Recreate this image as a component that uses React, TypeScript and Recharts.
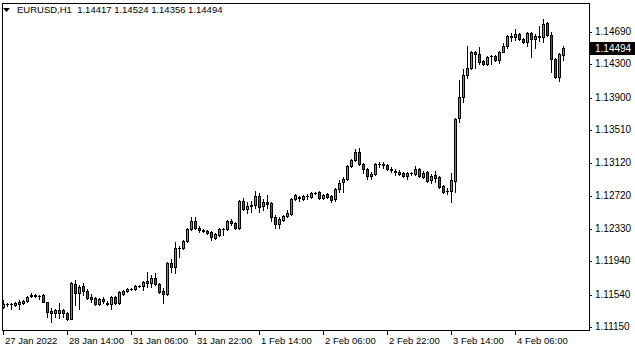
import React from 'react';
import { ComposedChart, Bar, XAxis, YAxis } from 'recharts';

const symbolTitle = 'EURUSD,H1';

const openPrices = [
  1.11390, 1.11426, 1.11426, 1.11414, 1.11426, 1.11438, 1.11462, 1.11522, 1.11534, 1.11522,
  1.11534, 1.11450, 1.11342, 1.11318, 1.11318, 1.11354, 1.11318, 1.11246, 1.11666, 1.11558,
  1.11642, 1.11582, 1.11510, 1.11498, 1.11426, 1.11486, 1.11438, 1.11426, 1.11510, 1.11438,
  1.11546, 1.11582, 1.11606, 1.11606, 1.11642, 1.11642, 1.11702, 1.11678, 1.11738, 1.11666,
  1.11582, 1.11546, 1.11918, 1.11870, 1.12098, 1.12098, 1.12182, 1.12326, 1.12422, 1.12338,
  1.12314, 1.12302, 1.12290, 1.12218, 1.12254, 1.12326, 1.12326, 1.12422, 1.12398, 1.12338,
  1.12662, 1.12566, 1.12602, 1.12614, 1.12722, 1.12602, 1.12650, 1.12638, 1.12470, 1.12386,
  1.12434, 1.12482, 1.12506, 1.12686, 1.12710, 1.12686, 1.12722, 1.12710, 1.12758, 1.12770,
  1.12698, 1.12746, 1.12722, 1.12686, 1.12806, 1.12890, 1.12926, 1.13082, 1.13154, 1.13250,
  1.13106, 1.13046, 1.12962, 1.12986, 1.13106, 1.13106, 1.13094, 1.13046, 1.13022, 1.13010,
  1.12998, 1.12962, 1.12998, 1.12986, 1.13046, 1.12950, 1.13010, 1.12914, 1.12974, 1.12950,
  1.12842, 1.12782, 1.12782, 1.12902, 1.13658, 1.13910, 1.14174, 1.14258, 1.14450, 1.14426,
  1.14342, 1.14306, 1.14402, 1.14402, 1.14354, 1.14450, 1.14522, 1.14630, 1.14630, 1.14666,
  1.14606, 1.14570, 1.14678, 1.14606, 1.14630, 1.14630, 1.14798, 1.14654, 1.14366, 1.14150,
  1.14417,
];

const highPrices = [
  1.11474, 1.11438, 1.11438, 1.11450, 1.11474, 1.11474, 1.11522, 1.11558, 1.11546, 1.11534,
  1.11546, 1.11450, 1.11378, 1.11366, 1.11438, 1.11366, 1.11330, 1.11690, 1.11714, 1.11654,
  1.11678, 1.11606, 1.11546, 1.11510, 1.11498, 1.11510, 1.11462, 1.11522, 1.11522, 1.11582,
  1.11594, 1.11618, 1.11618, 1.11654, 1.11654, 1.11702, 1.11810, 1.11774, 1.11798, 1.11678,
  1.11618, 1.11930, 1.11966, 1.12170, 1.12122, 1.12194, 1.12338, 1.12470, 1.12470, 1.12362,
  1.12326, 1.12314, 1.12302, 1.12278, 1.12338, 1.12338, 1.12434, 1.12446, 1.12410, 1.12674,
  1.12698, 1.12650, 1.12662, 1.12782, 1.12758, 1.12686, 1.12734, 1.12650, 1.12494, 1.12470,
  1.12494, 1.12554, 1.12698, 1.12746, 1.12722, 1.12734, 1.12746, 1.12770, 1.12770, 1.12782,
  1.12746, 1.12758, 1.12734, 1.12818, 1.12914, 1.12950, 1.13094, 1.13166, 1.13286, 1.13298,
  1.13118, 1.13058, 1.13010, 1.13118, 1.13130, 1.13130, 1.13106, 1.13070, 1.13046, 1.13034,
  1.13010, 1.13010, 1.13010, 1.13082, 1.13058, 1.13022, 1.13022, 1.12986, 1.13022, 1.12962,
  1.12854, 1.12818, 1.12998, 1.13658, 1.14114, 1.14246, 1.14522, 1.14462, 1.14462, 1.14510,
  1.14354, 1.14402, 1.14414, 1.14414, 1.14462, 1.14558, 1.14654, 1.14678, 1.14726, 1.14678,
  1.14618, 1.14690, 1.14690, 1.14666, 1.14762, 1.14846, 1.14810, 1.14690, 1.14378, 1.14438,
  1.14524,
];

const lowPrices = [
  1.11378, 1.11402, 1.11366, 1.11402, 1.11366, 1.11426, 1.11450, 1.11510, 1.11510, 1.11486,
  1.11450, 1.11270, 1.11210, 1.11270, 1.11258, 1.11270, 1.11234, 1.11246, 1.11414, 1.11366,
  1.11534, 1.11486, 1.11450, 1.11414, 1.11414, 1.11438, 1.11414, 1.11366, 1.11426, 1.11426,
  1.11534, 1.11570, 1.11594, 1.11594, 1.11630, 1.11594, 1.11630, 1.11630, 1.11654, 1.11558,
  1.11438, 1.11534, 1.11810, 1.11798, 1.11990, 1.12086, 1.12170, 1.12314, 1.12326, 1.12290,
  1.12290, 1.12266, 1.12194, 1.12206, 1.12242, 1.12254, 1.12314, 1.12374, 1.12326, 1.12326,
  1.12554, 1.12518, 1.12530, 1.12578, 1.12530, 1.12554, 1.12578, 1.12422, 1.12338, 1.12338,
  1.12422, 1.12470, 1.12494, 1.12674, 1.12662, 1.12674, 1.12686, 1.12698, 1.12746, 1.12686,
  1.12686, 1.12698, 1.12650, 1.12662, 1.12770, 1.12770, 1.12914, 1.13070, 1.13142, 1.13094,
  1.12998, 1.12926, 1.12926, 1.12974, 1.13070, 1.13058, 1.13034, 1.13010, 1.12974, 1.12974,
  1.12950, 1.12926, 1.12974, 1.12974, 1.12950, 1.12938, 1.12890, 1.12878, 1.12890, 1.12818,
  1.12758, 1.12746, 1.12650, 1.12770, 1.13610, 1.13850, 1.14138, 1.14246, 1.14258, 1.14306,
  1.14294, 1.14294, 1.14306, 1.14342, 1.14318, 1.14450, 1.14498, 1.14582, 1.14594, 1.14594,
  1.14558, 1.14522, 1.14390, 1.14498, 1.14582, 1.14570, 1.14642, 1.14210, 1.14138, 1.14102,
  1.14356,
];

const closePrices = [
  1.11426, 1.11426, 1.11426, 1.11438, 1.11450, 1.11462, 1.11510, 1.11534, 1.11522, 1.11522,
  1.11450, 1.11330, 1.11318, 1.11354, 1.11354, 1.11318, 1.11246, 1.11678, 1.11558, 1.11630,
  1.11582, 1.11498, 1.11486, 1.11426, 1.11486, 1.11462, 1.11426, 1.11510, 1.11438, 1.11570,
  1.11582, 1.11606, 1.11606, 1.11642, 1.11642, 1.11690, 1.11678, 1.11738, 1.11666, 1.11570,
  1.11546, 1.11918, 1.11870, 1.12098, 1.12098, 1.12182, 1.12326, 1.12422, 1.12338, 1.12314,
  1.12302, 1.12278, 1.12230, 1.12266, 1.12326, 1.12326, 1.12422, 1.12398, 1.12338, 1.12662,
  1.12566, 1.12602, 1.12614, 1.12722, 1.12590, 1.12650, 1.12626, 1.12470, 1.12386, 1.12446,
  1.12482, 1.12518, 1.12686, 1.12734, 1.12698, 1.12722, 1.12722, 1.12758, 1.12758, 1.12698,
  1.12734, 1.12710, 1.12674, 1.12806, 1.12878, 1.12926, 1.13082, 1.13154, 1.13250, 1.13106,
  1.13046, 1.12962, 1.12986, 1.13106, 1.13106, 1.13094, 1.13046, 1.13034, 1.13010, 1.12986,
  1.12962, 1.12998, 1.12998, 1.13046, 1.12962, 1.12998, 1.12902, 1.12962, 1.12938, 1.12830,
  1.12770, 1.12782, 1.12914, 1.13646, 1.13910, 1.14174, 1.14258, 1.14450, 1.14426, 1.14330,
  1.14306, 1.14390, 1.14402, 1.14354, 1.14450, 1.14522, 1.14642, 1.14642, 1.14666, 1.14606,
  1.14570, 1.14678, 1.14606, 1.14642, 1.14642, 1.14786, 1.14654, 1.14366, 1.14150, 1.14426,
  1.14494,
];

// empty bar slots kept at the right edge (chart shift)
const emptySlots = 6;

const xTickIndex = [0, 16, 32, 48, 64, 80, 96, 112, 128];
const xTickLabels = [
  '27 Jan 2022', '28 Jan 14:00', '31 Jan 06:00', '31 Jan 22:00', '1 Feb 14:00',
  '2 Feb 06:00', '2 Feb 22:00', '3 Feb 14:00', '4 Feb 06:00',
];

const yTicks = [1.1469, 1.14494, 1.143, 1.139, 1.1351, 1.1312, 1.1272, 1.1233, 1.1194, 1.1154, 1.1115];
const yDomain = [1.11114, 1.15038];

const GREEN = '#3cb83c';
const RED = '#d41c1c';
const FONT = '"Liberation Sans", Arial, sans-serif';

const lastClose = closePrices[closePrices.length - 1];

const data = Array.from({ length: openPrices.length + emptySlots }, (_, i) =>
  i < openPrices.length
    ? { i, o: openPrices[i], h: highPrices[i], l: lowPrices[i], c: closePrices[i], range: [lowPrices[i], highPrices[i]] }
    : { i, o: null, h: null, l: null, c: null, range: null }
);

function Candle(props: any) {
  const { x, y, width, height, payload } = props;
  if (!payload || payload.o == null || !isFinite(height) || !isFinite(y)) return null;
  const { o, h, l, c } = payload;
  const k = height / (h - l);
  const cx = Math.round(x + width / 2);
  const yOf = (v: number) => Math.round(y + (h - v) * k);
  const yH = yOf(h);
  const yL = yOf(l);
  const yO = yOf(o);
  const yC = yOf(c);
  const top = Math.min(yO, yC);
  const bot = Math.max(yO, yC);
  const fill = c > o ? GREEN : RED;
  return (
    <g>
      <rect x={cx} y={yH} width={1} height={yL - yH + 1} fill="#000" />
      <rect x={cx - 1} y={top} width={3} height={bot - top + 1} fill="#000" />
      {bot - top >= 2 && <rect x={cx} y={top + 1} width={1} height={bot - top - 1} fill={fill} />}
    </g>
  );
}

function XTick(props: any) {
  const { x, y, payload } = props;
  const idx = xTickIndex.indexOf(payload.value);
  if (idx < 0) return null;
  const px = Math.round(x);
  return (
    <g>
      <rect x={px} y={y + 1} width={1} height={4} fill="#000" />
      <text x={px + 2} y={y + 14} fill="#000" fontSize={9.5} fontFamily={FONT} textAnchor="start">
        {xTickLabels[idx]}
      </text>
    </g>
  );
}

function YTick(props: any) {
  const { x, y, payload } = props;
  const py = Math.round(y);
  const v = payload.value;
  const label = Number(v).toFixed(5);
  if (Math.abs(v - lastClose) < 1e-7) {
    return (
      <g>
        <rect x={x + 1} y={py - 6} width={46} height={13} fill="#000" />
        <text x={x + 6} y={py + 4} fill="#fff" fontSize={10} fontFamily={FONT} textAnchor="start">
          {label}
        </text>
      </g>
    );
  }
  return (
    <g>
      <rect x={x} y={py} width={3} height={1} fill="#000" />
      <text x={x + 6} y={py + 3} fill="#000" fontSize={10} fontFamily={FONT} textAnchor="start">
        {label}
      </text>
    </g>
  );
}

export default function App() {
  return (
    <div style={{ position: 'relative', width: 635, height: 352, background: '#fff', overflow: 'hidden' }}>
      <style>{`body{margin:0;background:#fff;}`}</style>
      <ComposedChart
        width={635}
        height={352}
        data={data}
        margin={{ top: 3, right: 0, bottom: 0, left: 1 }}
        barCategoryGap={0}
        barGap={0}
      >
        <XAxis
          dataKey="i"
          type="category"
          height={22}
          ticks={xTickIndex}
          interval={0}
          tick={<XTick />}
          tickLine={false}
          axisLine={false}
          tickSize={0}
          tickMargin={0}
        />
        <YAxis
          orientation="right"
          type="number"
          width={46}
          domain={yDomain}
          allowDataOverflow
          ticks={yTicks}
          interval={0}
          tick={<YTick />}
          tickLine={false}
          axisLine={false}
          tickSize={0}
          tickMargin={0}
        />
        <Bar dataKey="range" shape={<Candle />} isAnimationActive={false} />
      </ComposedChart>
      <div
        style={{
          position: 'absolute', left: 2, top: 3, width: 588, height: 328,
          border: '1px solid #000', boxSizing: 'border-box', pointerEvents: 'none',
        }}
      />
      <svg style={{ position: 'absolute', left: 0, top: 0 }} width={16} height={16}>
        <polygon points="3,8 10,8 6.5,12" fill="#000" />
      </svg>
      <div
        style={{
          position: 'absolute', left: 17, top: 4, fontFamily: FONT, fontSize: 9.5,
          color: '#000', whiteSpace: 'pre', lineHeight: '12px',
        }}
      >
        {`${symbolTitle}  ${openPrices[openPrices.length - 1].toFixed(5)} ${highPrices[highPrices.length - 1].toFixed(5)} ${lowPrices[lowPrices.length - 1].toFixed(5)} ${lastClose.toFixed(5)}`}
      </div>
    </div>
  );
}
